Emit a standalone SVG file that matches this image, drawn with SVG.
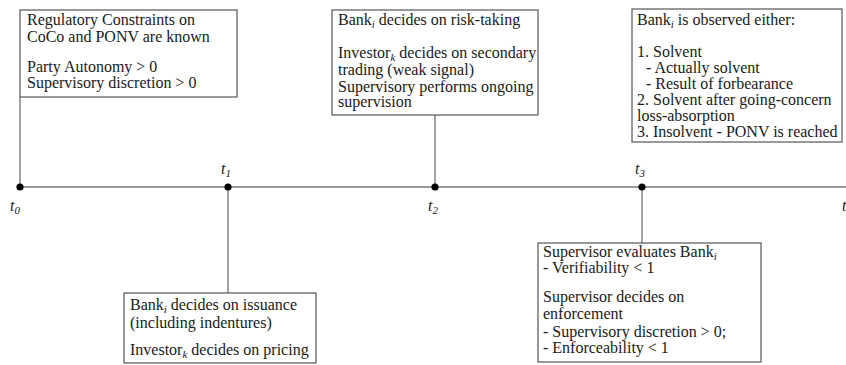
<svg xmlns="http://www.w3.org/2000/svg" width="846" height="365" viewBox="0 0 846 365">
<style>
text{font-size:16px;fill:#1a1a1a}
.sub{font-size:11px;font-style:italic}
.box{fill:#fff;stroke:#555;stroke-width:1.2}
.ln{stroke:#666;stroke-width:1.2;fill:none}
.tl{stroke:#777;stroke-width:1.6}
.dot{fill:#000}
.it{font-style:italic}
</style>
<rect width="846" height="365" fill="#fff"/>
<g id="connectors">
<line class="tl" x1="20" y1="187" x2="846" y2="187"/>
<line class="ln" x1="20" y1="97" x2="20" y2="187"/>
<line class="ln" x1="435" y1="115" x2="435" y2="187"/>
<line class="ln" x1="228" y1="187" x2="228" y2="293"/>
<line class="ln" x1="642" y1="187" x2="642" y2="243"/>
</g>
<g font-family="'Liberation Serif', 'Times New Roman', 'DejaVu Serif', serif">
<g id="timeline-points">
<circle class="dot" cx="20" cy="187" r="3.6"/>
<circle class="dot" cx="228" cy="187" r="3.6"/>
<circle class="dot" cx="435" cy="187" r="3.6"/>
<circle class="dot" cx="642" cy="187" r="3.6"/>
<text class="it" x="10" y="211">t<tspan class="sub" dy="3">0</tspan></text>
<text class="it" x="221" y="174">t<tspan class="sub" dy="3">1</tspan></text>
<text class="it" x="428" y="211">t<tspan class="sub" dy="3">2</tspan></text>
<text class="it" x="635" y="174">t<tspan class="sub" dy="3">3</tspan></text>
<text class="it" x="842" y="211">t<tspan class="sub" dy="3">4</tspan></text>
</g>
<g id="box-t0">
<rect class="box" x="20" y="10" width="217" height="87"/>
<text x="27" y="25">Regulatory Constraints on</text>
<text x="27" y="42">CoCo and PONV are known</text>
<text x="27" y="72">Party Autonomy &gt; 0</text>
<text x="27" y="88">Supervisory discretion &gt; 0</text>
</g>
<g id="box-t2">
<rect class="box" x="332" y="10" width="206" height="105"/>
<text x="338" y="25">Bank<tspan class="sub" dy="3">i</tspan><tspan dy="-3"> decides on risk-taking</tspan></text>
<text x="338" y="58">Investor<tspan class="sub" dy="3">k</tspan><tspan dy="-3"> decides on secondary</tspan></text>
<text x="338" y="75">trading (weak signal)</text>
<text x="338" y="92">Supervisory performs ongoing</text>
<text x="338" y="107">supervision</text>
</g>
<g id="box-t4">
<rect class="box" x="632" y="9" width="210" height="133"/>
<text x="637" y="25">Bank<tspan class="sub" dy="3">i</tspan><tspan dy="-3"> is observed either:</tspan></text>
<text x="637" y="57">1.  Solvent</text>
<text x="646" y="73">- Actually solvent</text>
<text x="646" y="89">- Result of forbearance</text>
<text x="637" y="105">2. Solvent after going-concern</text>
<text x="637" y="121">loss-absorption</text>
<text x="637" y="137">3. Insolvent - PONV is reached</text>
</g>
<g id="box-t1">
<rect class="box" x="124" y="293" width="192" height="70"/>
<text x="130" y="310">Bank<tspan class="sub" dy="3">i</tspan><tspan dy="-3"> decides on issuance</tspan></text>
<text x="130" y="328">(including indentures)</text>
<text x="130" y="355">Investor<tspan class="sub" dy="3">k</tspan><tspan dy="-3"> decides on pricing</tspan></text>
</g>
<g id="box-t3">
<rect class="box" x="538" y="243" width="223" height="119"/>
<text x="543" y="257">Supervisor evaluates Bank<tspan class="sub" dy="3">i</tspan></text>
<text x="543" y="273">- Verifiability &lt; 1</text>
<text x="543" y="302">Supervisor decides on</text>
<text x="543" y="319">enforcement</text>
<text x="543" y="337">- Supervisory discretion &gt; 0;</text>
<text x="543" y="353">- Enforceability &lt; 1</text>
</g>
</g>
</svg>
